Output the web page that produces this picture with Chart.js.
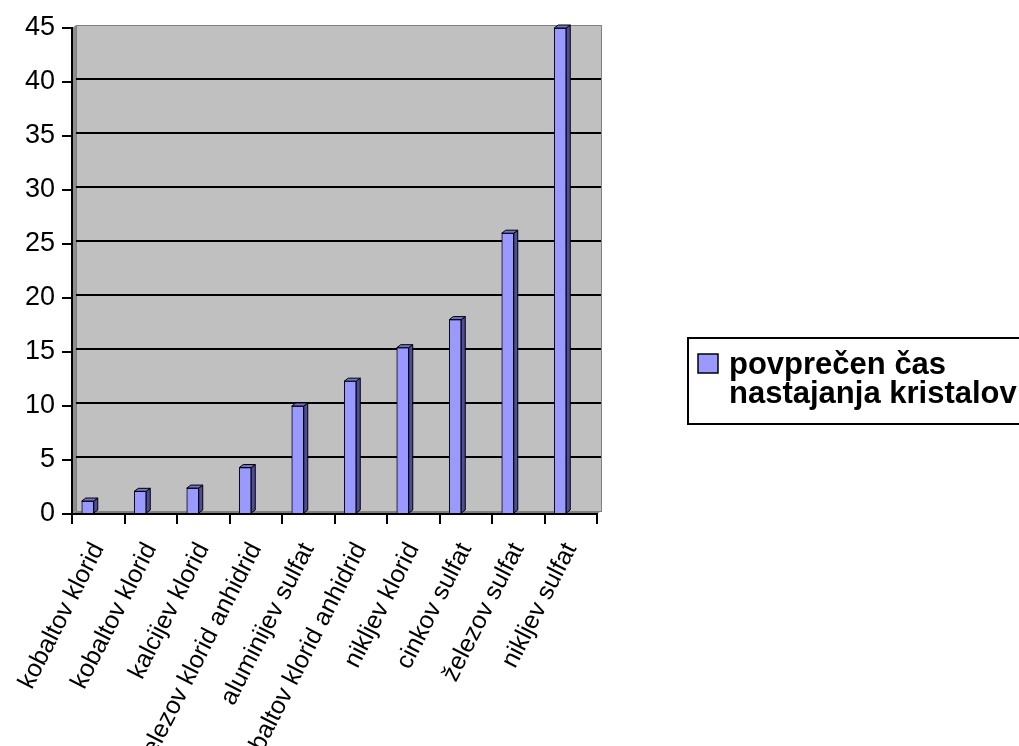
<!DOCTYPE html>
<html>
<head>
<meta charset="utf-8">
<script src="https://cdn.jsdelivr.net/npm/chart.js@4"></script>
<style>
  body { margin: 0; background: #fff; }
  #wrap { width: 1019px; height: 746px; position: relative; }
</style>
</head>
<body>
<div id="wrap"><canvas id="crystalChart"></canvas></div>
<script>
// Data
const categories = [
    'kobaltov klorid', 'kobaltov klorid', 'kalcijev klorid', 'železov klorid anhidrid',
    'aluminijev sulfat', 'kobaltov klorid anhidrid', 'nikljev klorid', 'cinkov sulfat',
    'železov sulfat', 'nikljev sulfat'
];
const avgTimes = [1.2, 2.1, 2.4, 4.3, 10, 12.3, 15.4, 18, 26, 45];
const seriesLines = ['povprečen čas', 'nastajanja kristalov'];
const yTicks = [0, 5, 10, 15, 20, 25, 30, 35, 40, 45];

const FONT = '"Liberation Sans", Arial, sans-serif';
const DX = 4, DY = -3; // 3D depth offset

// Back wall, side wall, floor and gridlines
const wallsPlugin = {
    id: 'walls',
    beforeDraw(chart) {
        const ctx = chart.ctx;
        const y = chart.scales.y;
        const { left, right, top, bottom } = chart.chartArea;
        ctx.save();
        // back wall
        ctx.fillStyle = '#c0c0c0';
        ctx.fillRect(left + DX, top + DY, right - left, bottom - top);
        ctx.strokeStyle = '#808080';
        ctx.lineWidth = 1;
        ctx.strokeRect(left + DX + 0.5, top + DY + 0.5, right - left, bottom - top);
        // left wall
        ctx.fillStyle = '#8c8c8c';
        ctx.beginPath();
        ctx.moveTo(left, top);
        ctx.lineTo(left + DX, top + DY);
        ctx.lineTo(left + DX, bottom + DY);
        ctx.lineTo(left, bottom);
        ctx.closePath();
        ctx.fill();
        // floor
        ctx.fillStyle = '#808080';
        ctx.beginPath();
        ctx.moveTo(left, bottom);
        ctx.lineTo(left + DX, bottom + DY);
        ctx.lineTo(right + DX, bottom + DY);
        ctx.lineTo(right, bottom);
        ctx.closePath();
        ctx.fill();
        // gridlines on the back wall
        ctx.strokeStyle = '#000';
        ctx.lineWidth = 2;
        yTicks.forEach(v => {
            if (v === 0 || v === 45) return;
            const py = Math.round(y.getPixelForValue(v)) + DY;
            ctx.beginPath();
            ctx.moveTo(left + DX, py);
            ctx.lineTo(right + DX, py);
            ctx.stroke();
        });
        ctx.restore();
    },
    afterDatasetsDraw(chart) {
        // top and side faces of the columns
        const ctx = chart.ctx;
        const meta = chart.getDatasetMeta(0);
        ctx.save();
        ctx.strokeStyle = '#000';
        ctx.lineWidth = 1;
        ctx.lineJoin = 'round';
        meta.data.forEach(bar => {
            const l = bar.x - bar.width / 2, r = bar.x + bar.width / 2;
            const t = bar.y, b = bar.base;
            ctx.fillStyle = '#4d4d99';
            ctx.beginPath();
            ctx.moveTo(r, t);
            ctx.lineTo(r + DX, t + DY);
            ctx.lineTo(r + DX, b + DY);
            ctx.lineTo(r, b);
            ctx.closePath();
            ctx.fill();
            ctx.stroke();
            ctx.fillStyle = '#7373cc';
            ctx.beginPath();
            ctx.moveTo(l, t);
            ctx.lineTo(l + DX, t + DY);
            ctx.lineTo(r + DX, t + DY);
            ctx.lineTo(r, t);
            ctx.closePath();
            ctx.fill();
            ctx.stroke();
        });
        ctx.restore();
    },
    afterDraw(chart) {
        // legend box on the right, clipped by the canvas edge
        const ctx = chart.ctx;
        ctx.save();
        ctx.strokeStyle = '#000';
        ctx.lineWidth = 2;
        ctx.strokeRect(688, 338, 360, 86);
        ctx.fillStyle = '#9999ff';
        ctx.fillRect(698, 354, 20, 19);
        ctx.lineWidth = 1.5;
        ctx.strokeRect(698, 354, 20, 19);
        ctx.fillStyle = '#000';
        ctx.font = 'bold 31px ' + FONT;
        ctx.textBaseline = 'alphabetic';
        ctx.fillText(seriesLines[0], 729, 374);
        ctx.fillText(seriesLines[1], 729, 403);
        ctx.restore();
    }
};

const ctx = document.getElementById('crystalChart').getContext('2d');
const chart = new Chart(ctx, {
    type: 'bar',
    data: {
        labels: categories,
        datasets: [{
            label: seriesLines.join(' '),
            data: avgTimes.map((v, i) => ({ x: i, y: v })),
            xAxisID: 'xb',
            backgroundColor: '#9999ff',
            borderColor: '#000',
            borderWidth: 1,
            barThickness: 12
        }]
    },
    options: {
        responsive: true,
        maintainAspectRatio: false,
        animation: false,
        layout: { padding: { left: 0, top: 28, right: 422, bottom: 0 } },
        plugins: { legend: { display: false }, tooltip: { enabled: false } },
        scales: {
            x: {
                type: 'category',
                position: 'bottom',
                offset: true,
                grid: { offset: true, drawOnChartArea: false, tickLength: 10, color: '#000', lineWidth: 2 },
                border: { color: '#000', width: 2 },
                afterFit: s => { s.height = 232; s.paddingLeft = 0; s.paddingRight = 0; },
                ticks: {
                    autoSkip: false,
                    minRotation: 63,
                    maxRotation: 63,
                    padding: 14,
                    color: '#000',
                    font: { family: FONT, size: 25 }
                }
            },
            // bars sit left of the category centre, as in the 3D original
            xb: {
                type: 'linear',
                display: false,
                offset: false,
                min: -0.3,
                max: 9.7
            },
            y: {
                type: 'linear',
                min: 0,
                max: 45,
                grid: { drawOnChartArea: false, tickLength: 10, color: '#000', lineWidth: 2 },
                border: { color: '#000', width: 2 },
                afterFit: s => { s.width = 72; s.paddingTop = 0; s.paddingBottom = 0; },
                ticks: {
                    stepSize: 5,
                    padding: 7,
                    color: '#000',
                    font: { family: FONT, size: 27 }
                }
            }
        }
    },
    plugins: [wallsPlugin]
});
</script>
</body>
</html>
